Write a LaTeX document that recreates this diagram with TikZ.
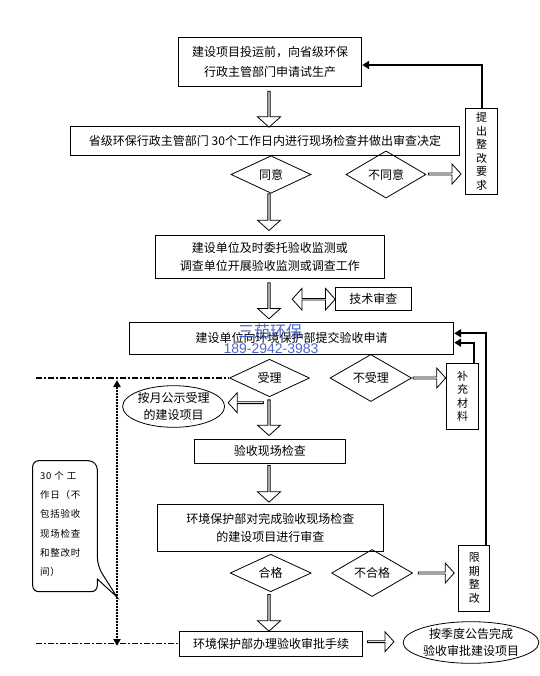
\documentclass[tikz,border=0pt]{standalone}
\usepackage{fontspec}
\setmainfont{Noto Sans CJK SC}
\newfontfamily\wmfont{Liberation Sans}
\newfontfamily\notefont[LetterSpace=8]{Noto Sans CJK SC}
\usetikzlibrary{shapes.geometric,shapes.arrows,arrows.meta}

\definecolor{wmblue}{RGB}{45,75,200}

\tikzset{
  box/.style={draw, line width=1pt, inner sep=0pt, align=center, font=\fontsize{12}{18}\selectfont},
  vbox/.style={box, font=\fontsize{11}{13.5}\selectfont},
  choice/.style={diamond, draw, line width=0.8pt, inner sep=0pt, minimum width=80pt, minimum height=37.5pt, font=\fontsize{12}{14}\selectfont},
  oval/.style={ellipse, draw, line width=0.8pt, inner sep=0pt, align=center, font=\fontsize{12}{17.5}\selectfont},
  fat/.style={single arrow, draw, line width=0.8pt, inner sep=0pt, single arrow tip angle=96},
  fatdown/.style={fat, shape border rotate=270, minimum width=23pt, single arrow head extend=3.75pt},
  fatright/.style={fat, minimum width=20pt, single arrow head extend=4pt},
  fatleft/.style={fatright, shape border rotate=180},
  back/.style={line width=2.2pt, -{Triangle[width=8pt,length=7pt]}},
  span/.style={line width=1.6pt, dash pattern=on 6pt off 2pt on 2pt off 2pt},
}

\begin{document}
\begin{tikzpicture}[x=1pt, y=-1pt]
    \useasboundingbox (0,0) rectangle (539,676);

    % main column
    \node[box, minimum width=183pt, minimum height=49pt]   (apply)    at (270.2,62)    {建设项目投运前，向省级环保\\[2pt]行政主管部门申请试生产};
    \node[box, minimum width=389pt, minimum height=28.6pt] (check)    at (265,141)     {省级环保行政主管部门 30个工作日内进行现场检查并做出审查决定};
    \node[choice]                                          (agree)    at (271,174.5)   {同意};
    \node[choice]                                          (refuse)   at (386,174.5)   {不同意};
    \node[vbox, minimum width=31.6pt, minimum height=85.7pt] (rectify) at (481.6,151.2) {提\\出\\整\\改\\要\\求};
    \node[box, minimum width=229pt, minimum height=43.3pt] (monitor)  at (269.9,256.7) {建设单位及时委托验收监测或\\调查单位开展验收监测或调查工作};
    \node[box, minimum width=76pt, minimum height=23.3pt]  (review)   at (373.4,299.3) {技术审查};
    \node[box, minimum width=324pt, minimum height=32pt]   (submit)   at (291.7,338.3) {建设单位向环境保护部提交验收申请};
    \node[choice]                                          (accept)   at (269.5,378)   {受理};
    \node[choice, minimum width=81.5pt]                    (reject)   at (370.8,378)   {不受理};
    \node[vbox, minimum width=32pt, minimum height=66pt]   (supply)   at (462.6,396.3) {补\\充\\材\\料};
    \node[oval, minimum width=102pt, minimum height=41.6pt] (publish) at (173.6,406.5) {按月公示受理\\的建设项目};
    \node[box, minimum width=151pt, minimum height=24.3pt] (inspect)  at (269.9,451.2) {验收现场检查};
    \node[box, minimum width=226pt, minimum height=46.7pt] (audit)    at (270.4,527.7) {环境保护部对完成验收现场检查\\的建设项目进行审查};
    \node[choice, minimum width=81pt]                      (pass)     at (270.7,573)   {合格};
    \node[choice, minimum width=81pt]                      (fail)     at (372.1,573)   {不合格};
    \node[vbox, minimum width=31pt, minimum height=66pt]   (deadline) at (474.4,578)   {限\\期\\整\\改};
    \node[box, minimum width=183pt, minimum height=25pt]   (approve)  at (271,643.5)   {环境保护部办理验收审批手续};
    \node[oval, minimum width=134pt, minimum height=41.6pt] (announce) at (471,642.5) {按季度公告完成\\验收审批建设项目};

    % block arrows
    \node[fatdown, minimum height=36pt]   (a1) at (269,108.7) {};
    \node[fatdown, minimum height=36.7pt] (a2) at (269,211.7) {};
    \node[fatdown, minimum height=36pt]   (a3) at (269,300.3) {};
    \node[fatdown, minimum height=35.7pt] (a4) at (269,417.2) {};
    \node[fatdown, minimum height=36.7pt] (a5) at (269,483.3) {};
    \node[fatdown, minimum height=36.7pt] (a6) at (269,612.3) {};
    \node[fatright, minimum height=32.6pt] (r1) at (444.3,174) {};
    \node[fatright, minimum height=32.7pt] (r2) at (428.9,378) {};
    \node[fatright, minimum height=36pt]   (r3) at (435.8,573) {};
    \node[fatright, minimum height=26.5pt] (r4) at (380.3,641.7) {};
    \node[fatleft, minimum height=35.4pt]  (l1) at (246.3,402.7) {};
    \node[double arrow, draw, line width=0.8pt, inner sep=0pt, minimum width=21.7pt, minimum height=43pt,
          double arrow head extend=5.3pt, double arrow tip angle=96] (d1) at (313.7,299.2) {};

    % feedback lines
    \draw[back] (rectify.north) |- ([yshift=-3pt]apply.east);
    \draw[back] ([xshift=11.4pt]supply.north) |- ([yshift=-4.4pt]submit.east);
    \draw[back] ([xshift=11.6pt]deadline.north) |- ([yshift=5pt]submit.east);

    % time span
    \coordinate (top)  at (36,378);
    \coordinate (foot) at (36,643.5);
    \draw[span] (top) -- (accept.west);
    \draw[span] (foot) -- (approve.west);
    \draw[line width=2pt, densely dotted, {Triangle[width=7pt,length=7pt]}-{Triangle[width=7pt,length=7pt]}]
        (117,380) -- (117,646);

    % note
    \draw[line width=1pt, rounded corners=9pt] (32.7,460.7) -- (97.3,460.7) -- (97.3,566)
        [sharp corners] -- (117,597) -- (97.3,579) [rounded corners=6pt] -- (97.3,591.7) -- (32.7,591.7) -- cycle;
    \node[anchor=north west, inner sep=0pt, align=left, font=\notefont\fontsize{9.5}{19.3}\selectfont] (note) at (40,471)
        {30 个 工\\作日（不\\包括验收\\现场检查\\和整改时\\间）};

    % watermark
    \node[text=wmblue, opacity=0.85, font=\fontsize{16}{16}\selectfont] (mark) at (270,331) {三茄环保};
    \node[text=wmblue, opacity=0.85, font=\wmfont\fontsize{14}{14}\selectfont] (phone) at (271,349) {189-2942-3983};
\end{tikzpicture}
\end{document}
